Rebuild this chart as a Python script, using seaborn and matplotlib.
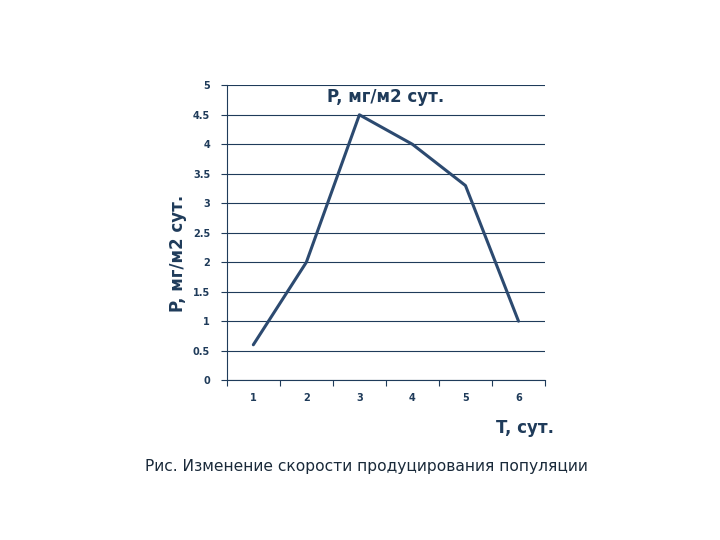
import numpy as np
import pandas as pd
import seaborn as sns
import matplotlib.pyplot as plt
from matplotlib.ticker import FixedLocator

days = [1, 2, 3, 4, 5, 6]
production = [0.6, 2.0, 4.5, 4.0, 3.3, 1.0]
y_ticks = [0, 0.5, 1, 1.5, 2, 2.5, 3, 3.5, 4, 4.5, 5]
y_tick_labels = ["0", "0.5", "1", "1.5", "2", "2.5", "3", "3.5", "4", "4.5", "5"]

navy = "#1f3b5a"
line_color = "#2c4a70"

sns.set_style("white")
plt.rcParams['font.family'] = ['Verdana', 'DejaVu Sans']

df = pd.DataFrame({"T": days, "P": production})

fig = plt.figure(figsize=(7.2, 5.4), dpi=100)
ax = fig.add_axes([0.315, 0.296, 0.442, 0.546])

sns.lineplot(data=df, x="T", y="P", ax=ax, color=line_color, linewidth=2.2)

ax.set_xlim(0.5, 6.5)
ax.set_ylim(0, 5)

# category boundaries get tick marks, labels sit in the middle
ax.xaxis.set_major_locator(FixedLocator(np.arange(0.5, 7.0, 1.0)))
ax.set_xticklabels([])
ax.xaxis.set_minor_locator(FixedLocator(days))
ax.set_xticklabels([str(d) for d in days], minor=True)
ax.tick_params(axis="x", which="major", length=4, width=0.8, color=navy, direction="out", bottom=True)
ax.tick_params(axis="x", which="minor", length=0, pad=9, labelsize=7, labelcolor=navy)

ax.set_yticks(y_ticks)
ax.set_yticklabels(y_tick_labels)
ax.tick_params(axis="y", length=4, width=0.8, color=navy, direction="out", left=True,
               labelsize=7, labelcolor=navy, pad=8)
for lab in ax.get_yticklabels() + ax.get_xticklabels(minor=True):
    lab.set_fontweight("bold")

ax.grid(axis="y", color=navy, linewidth=0.8)
ax.set_axisbelow(True)
for side in ["top", "right"]:
    ax.spines[side].set_visible(False)
for side in ["left", "bottom"]:
    ax.spines[side].set_color(navy)
    ax.spines[side].set_linewidth(0.8)

ax.set_xlabel("")
ax.set_ylabel("P, мг/м2 сут.", fontsize=12, fontweight="bold", color=navy)
ax.yaxis.set_label_coords(-0.124, 0.43)
ax.text(0.5, 0.96, "P, мг/м2 сут.", transform=ax.transAxes, ha="center", va="center",
        fontsize=12, fontweight="bold", color=navy)

fig.text(525 / 720, 1 - 428 / 540, "T, сут.", ha="center", va="center",
         fontsize=12, fontweight="bold", color=navy)
fig.text(366 / 720, 1 - 467 / 540, "Рис. Изменение скорости продуцирования популяции",
         ha="center", va="center", fontsize=11.2, color="#1a2a3a")

fig.savefig("out.png", dpi=100)
